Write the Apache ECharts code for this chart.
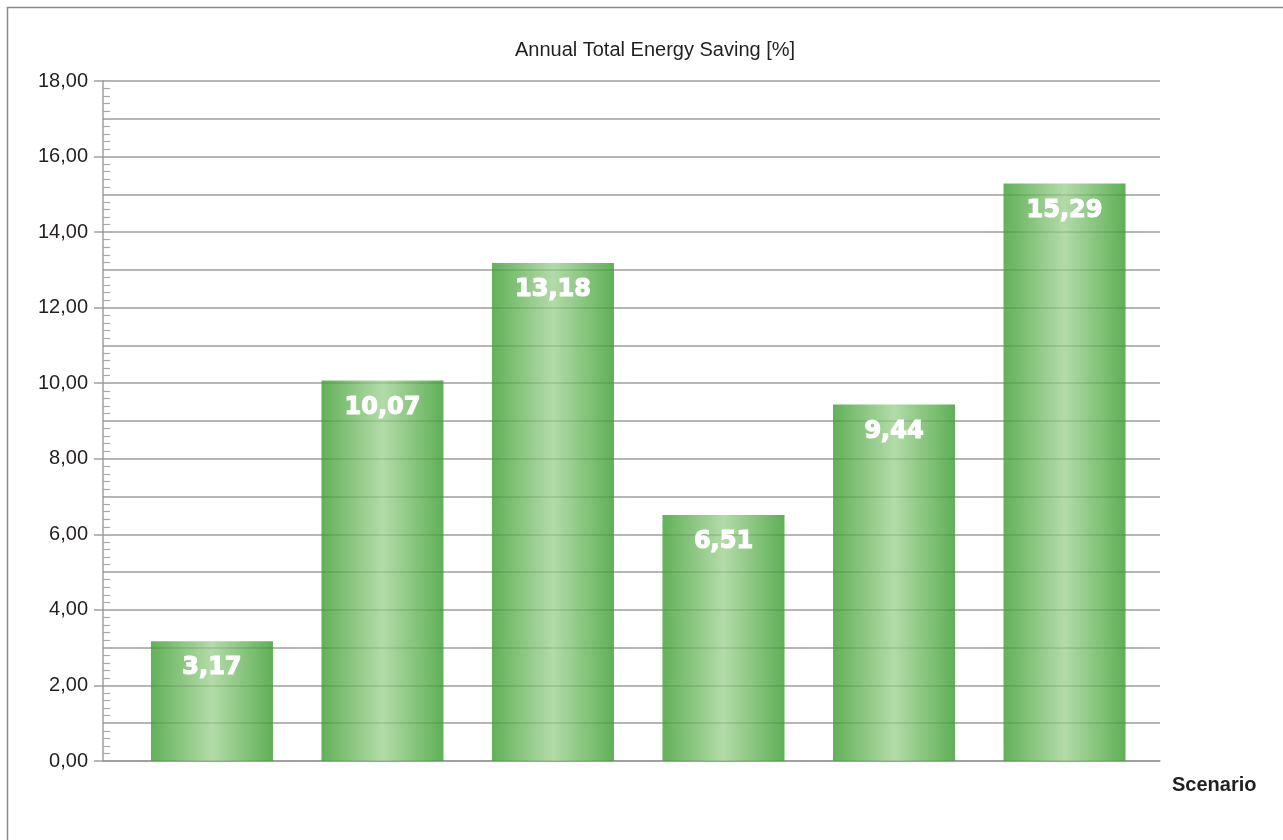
<!DOCTYPE html>
<html>
<head>
<meta charset="utf-8">
<script src="https://cdn.jsdelivr.net/npm/echarts@6/dist/echarts.min.js"></script>
<style>
  html, body { margin: 0; padding: 0; background: #fff; }
  #chart { width: 1283px; height: 840px; }
</style>
</head>
<body>
<div id="chart"></div>
<script>
// 数据
const scenarioIndex = [0, 1, 2, 3, 4, 5]
const savingValues = [3.17, 10.07, 13.18, 6.51, 9.44, 15.29]
const yTickLabels = ['0,00', '2,00', '4,00', '6,00', '8,00', '10,00', '12,00', '14,00', '16,00', '18,00']

const points = scenarioIndex.map((x, i) => [x, savingValues[i]])
const fmt = (v) => v.toFixed(2).replace('.', ',')

const barGradient = new echarts.graphic.LinearGradient(0, 0, 1, 0, [
  { offset: 0, color: '#62b159' },
  { offset: 0.5, color: '#b3dba8' },
  { offset: 1, color: '#5fb056' },
])

const chart = echarts.init(document.getElementById('chart'))

chart.setOption({
  animation: false,
  backgroundColor: '#fff',
  title: {
    text: 'Annual Total Energy Saving [%]',
    left: 650,
    top: 35,
    textAlign: 'center',
    textStyle: {
      fontFamily: 'Liberation Sans',
      fontSize: 20,
      fontWeight: 'normal',
      color: '#231f20',
    },
  },
  graphic: [
    {
      type: 'rect',
      shape: { x: 7.5, y: 7.5, width: 1300, height: 860 },
      style: { fill: 'none', stroke: '#8a8a8a', lineWidth: 1.5 },
      silent: true,
    },
  ],
  grid: { left: 103, right: 123, top: 81, bottom: 79 },
  xAxis: {
    type: 'value',
    min: -0.639,
    max: 5.56,
    name: 'Scenario',
    nameLocation: 'end',
    nameGap: 12,
    nameTextStyle: {
      fontFamily: 'Liberation Sans',
      fontSize: 20,
      fontWeight: 'bold',
      color: '#231f20',
      verticalAlign: 'top',
      padding: [14, 0, 0, 0],
    },
    axisLine: { show: true, onZero: false, lineStyle: { color: '#a8a8a8', width: 1.5 } },
    axisTick: { show: false },
    axisLabel: { show: false },
    splitLine: { show: false },
  },
  yAxis: [
    {
      // 主刻度、标签、轴线
      type: 'value',
      min: 0,
      max: 18,
      interval: 2,
      position: 'left',
      axisLine: { show: true, onZero: false, lineStyle: { color: '#a0a0a0', width: 1.5 } },
      axisTick: { show: true, length: 9, lineStyle: { color: '#a0a0a0', width: 1.5 } },
      axisLabel: {
        margin: 15,
        fontFamily: 'Liberation Sans',
        fontSize: 20,
        color: '#231f20',
        formatter: (v) => yTickLabels[Math.round(v / 2)],
      },
      splitLine: { show: false },
    },
    {
      // 网格线 + 内侧小刻度
      type: 'value',
      min: 0,
      max: 18,
      interval: 1,
      position: 'left',
      axisLine: { show: false, onZero: false },
      axisTick: { show: false, inside: true },
      axisLabel: { show: false },
      minorTick: { show: true, splitNumber: 5, length: 7, lineStyle: { color: '#a8a8a8', width: 1.2 } },
      splitLine: { show: true, lineStyle: { color: '#b6b6b6', width: 1.5 } },
    },
    {
      // 覆盖在柱子上的淡网格线
      type: 'value',
      min: 0,
      max: 18,
      interval: 1,
      position: 'left',
      z: 3,
      axisLine: { show: false, onZero: false },
      axisTick: { show: false },
      axisLabel: { show: false },
      splitLine: { show: true, lineStyle: { color: 'rgba(0,0,0,0.12)', width: 1.5 } },
    },
  ],
  series: [
    {
      name: 'saving',
      type: 'bar',
      barWidth: 122,
      z: 2,
      data: points,
      itemStyle: { color: barGradient },
    },
    {
      // 标签层，放在网格线之上
      name: 'label',
      type: 'bar',
      barWidth: 122,
      barGap: '-100%',
      z: 5,
      silent: true,
      data: points,
      itemStyle: { color: 'rgba(0,0,0,0)' },
      label: {
        show: true,
        position: 'insideTop',
        distance: 15,
        fontFamily: 'DejaVu Sans',
        fontSize: 24,
        fontWeight: 'bold',
        color: '#fff',
        textBorderColor: '#fff',
        textBorderWidth: 1.2,
        formatter: (p) => fmt(p.value[1]),
      },
    },
  ],
})
</script>
</body>
</html>
